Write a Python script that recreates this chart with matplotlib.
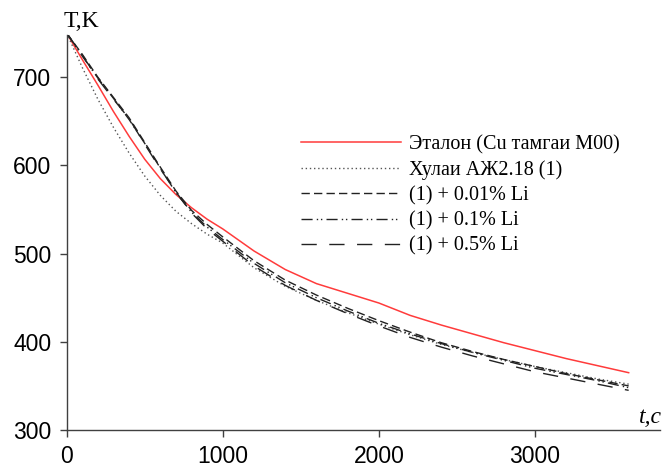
import matplotlib
matplotlib.use("Agg")
import matplotlib.pyplot as plt

t = [0, 100, 200, 300, 400, 500, 600, 700, 800, 900, 1000, 1200, 1400, 1600,
     1800, 2000, 2200, 2400, 2600, 2800, 3000, 3200, 3400, 3600]

etalon = [750, 720, 691, 661, 633, 607, 585, 567, 552, 539, 528, 503, 482, 466,
          455, 444, 430, 419, 409, 399, 390, 381, 373, 365]
alloy = [750, 711, 675, 643, 614, 588, 566, 548, 534, 522, 512, 484, 463, 447,
         433, 420, 408, 397, 388, 380, 372, 365, 358, 352]
li001 = [750, 726, 700, 677, 654, 626, 598, 571, 549, 533, 519, 492, 470, 453,
         438, 424, 411, 399, 389, 380, 372, 364, 357, 350]
li01 = [750, 724, 699, 676, 652, 625, 597, 569, 547, 530, 516, 489, 467, 450,
        435, 421, 409, 398, 388, 379, 370, 363, 356, 348]
li05 = [750, 725, 698, 675, 653, 624, 596, 570, 546, 528, 514, 486, 464, 447,
        432, 418, 405, 394, 384, 375, 366, 359, 352, 345]

labels = ["Эталон (Cu тамгаи M00)", "Хулаи АЖ2.18 (1)", "(1) + 0.01% Li",
          "(1) + 0.1% Li", "(1) + 0.5% Li"]
xticks = [0, 1000, 2000, 3000]
yticks = [300, 400, 500, 600, 700]

fig = plt.figure(figsize=(6.65, 4.67), dpi=100)
ax = fig.add_axes([0.1003, 0.0792, 0.892, 0.846])

ax.plot(t, etalon, color="#ff3b3b", lw=1.1, label=labels[0])
ax.plot(t, alloy, color="#555555", lw=1.0, linestyle=(0, (1, 2)), label=labels[1])
ax.plot(t, li001, color="#222222", lw=1.0, linestyle=(0, (6, 3)), label=labels[2])
ax.plot(t, li01, color="#222222", lw=1.0, linestyle=(0, (8, 3, 1, 2, 1, 3)), label=labels[3])
ax.plot(t, li05, color="#222222", lw=1.0, linestyle=(0, (11, 9)), label=labels[4])

ax.set_xlim(0, 3800)
ax.set_ylim(300, 748)
ax.set_xticks(xticks)
ax.set_yticks(yticks)
ax.tick_params(labelsize=16.5, length=5, width=1, color="#404040", direction="out", pad=6)
for lab in ax.get_xticklabels() + ax.get_yticklabels():
    lab.set_fontfamily("Liberation Sans")
for s in ["top", "right"]:
    ax.spines[s].set_visible(False)
for s in ["left", "bottom"]:
    ax.spines[s].set_color("#404040")
    ax.spines[s].set_linewidth(1)

fig.text(0.095, 0.955, "T,K", fontsize=17, family="Liberation Serif", ha="left", va="center")
fig.text(0.961, 0.105, "t,c", fontsize=17, family="Liberation Serif", style="italic",
         ha="left", va="center")

leg = ax.legend(loc="upper left", bbox_to_anchor=(0.44, 0.728), bbox_transform=fig.transFigure,
                frameon=False, prop={"family": "Liberation Serif", "size": 14.5},
                handlelength=5.0, handletextpad=0.4, labelspacing=0.3, borderaxespad=0)

fig.savefig("out.png", dpi=100)
